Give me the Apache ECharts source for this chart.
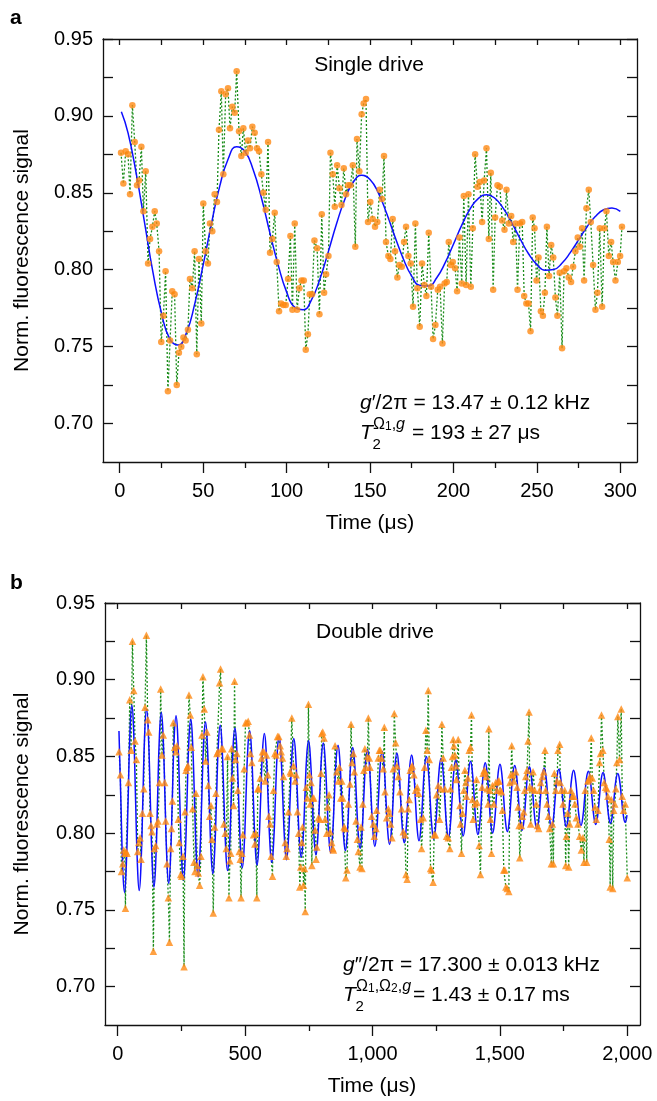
<!DOCTYPE html>
<html><head><meta charset="utf-8">
<script src="https://cdn.jsdelivr.net/npm/echarts@6/dist/echarts.min.js"></script>
<style>html,body{margin:0;padding:0;background:#fff}#c{width:657px;height:1101px}</style>
</head><body><div id="c"></div>
<script>
// ---------- Panel a: single drive ----------
const aTime = [
0.8,2.2,3.6,5.0,6.2,7.6,9.0,10.4,11.6,13.0,
14.2,15.6,17.0,18.2,19.6,21.0,22.2,23.6,24.9,26.2,
27.5,28.9,30.2,31.5,32.9,34.2,35.5,36.9,38.2,39.5,
40.9,42.1,43.5,44.9,46.2,47.5,48.9,50.1,51.5,52.9,
54.1,55.5,56.9,58.3,59.5,60.9,62.1,63.5,64.9,66.1,
67.5,68.9,70.1,71.5,72.9,74.1,75.5,76.9,78.1,79.5,
80.9,82.3,83.5,84.9,86.1,87.5,88.9,90.1,91.5,92.9,
94.1,95.5,96.7,98.1,99.5,100.9,102.3,103.5,104.9,106.3,
107.7,108.9,110.3,111.5,112.8,113.9,115.3,116.7,118.3,119.7,
121.1,122.5,123.7,125.1,126.3,127.7,128.9,130.3,131.7,132.9,
134.3,135.7,136.9,138.3,139.7,141.2,142.2,143.6,145.0,146.2,
147.6,148.8,150.2,151.6,153.0,154.4,155.8,157.2,158.4,159.6,
161.0,162.2,163.6,165.0,166.4,167.6,169.0,170.4,171.6,173.0,
174.4,175.8,177.2,178.4,179.8,181.2,182.6,183.8,185.2,186.6,
187.8,189.2,190.6,192.0,193.4,194.7,196.0,197.2,198.4,199.6,
201.0,202.2,203.6,205.0,206.2,207.6,209.0,210.4,211.6,213.0,
214.4,215.8,217.2,218.4,219.8,221.2,222.4,223.8,225.0,226.4,
227.8,229.2,230.6,231.8,233.2,234.6,235.8,237.2,238.4,239.8,
241.2,242.4,243.7,245.0,246.2,247.5,248.6,249.8,251.0,252.4,
253.6,254.8,256.0,257.3,258.6,259.8,261.1,262.3,263.7,265.1,
266.3,267.7,269.1,270.5,271.7,273.1,274.5,275.7,277.1,278.3,
279.7,281.1,282.3,283.7,285.1,286.3,287.7,289.1,290.5,291.7,
293.1,294.5,295.7,297.1,298.5,299.9,301.0];
const aSignal = [
.876,.856,.877,.875,.849,.907,.883,.855,.858,.880,
.838,.864,.804,.820,.828,.838,.830,.812,.753,.770,
.799,.721,.754,.786,.784,.725,.746,.750,.756,.754,
.761,.794,.788,.812,.745,.807,.765,.843,.812,.804,
.830,.825,.849,.844,.891,.916,.862,.914,.918,.892,
.906,.902,.929,.890,.874,.892,.876,.884,.879,.893,
.889,.879,.877,.862,.850,.839,.883,.811,.820,.837,
.805,.773,.778,.777,.777,.794,.822,.774,.830,.774,
.788,.793,.793,.748,.758,.784,.784,.819,.814,.771,
.836,.785,.797,.809,.876,.862,.841,.868,.853,.842,
.866,.849,.855,.855,.868,.815,.885,.864,.901,.908,
.911,.831,.844,.833,.828,.831,.852,.846,.874,.818,
.809,.807,.833,.812,.795,.803,.802,.818,.828,.809,
.804,.776,.830,.788,.763,.804,.790,.783,.824,.789,
.755,.764,.787,.789,.752,.791,.792,.818,.803,.805,
.801,.786,.821,.791,.848,.790,.849,.789,.827,.875,
.854,.857,.831,.858,.879,.820,.863,.787,.834,.855,
.854,.832,.826,.852,.830,.835,.818,.830,.787,.830,
.831,.783,.778,.778,.760,.834,.827,.793,.808,.773,
.770,.785,.828,.796,.816,.808,.782,.770,.798,.749,
.799,.801,.795,.792,.802,.812,.821,.815,.827,.793,
.840,.852,.831,.803,.774,.785,.827,.776,.827,.838,
.809,.818,.805,.793,.805,.809,.828];
const aFitTime = [1,5,10,15,20,25,30,35,40,45,50,55,60,65,70,75,80,85,90,95,100,105,110,115,120,125,130,135,140,145,150,155,160,165,170,175,180,185,190,195,200,205,210,215,220,225,230,235,240,245,250,255,260,265,270,275,280,285,290,295,300];
const aFitSignal = [.9027,.889,.862,.830,.798,.772,.755,.751,.759,.778,.803,.830,.8545,.872,.880,.877,.865,.8465,.824,.803,.7856,.7755,.774,.7806,.794,.8116,.830,.846,.857,.8614,.8587,.850,.8365,.8213,.807,.7958,.7898,.7895,.7948,.8045,.8166,.829,.8395,.8464,.8488,.8463,.8397,.8304,.820,.8104,.8033,.7997,.8001,.8042,.8111,.8194,.8278,.8346,.839,.8401,.8379];

// ---------- Panel b: double drive ----------
const bTime = [
5,10.6,14.5,19.7,23.6,27.5,30.2,32.8,36.7,41.9,
47.1,52.4,57.6,62.8,68.0,73.2,78.5,82.4,87.6,91.5,
96.8,102.0,107.2,112.4,117.7,121.6,126.8,130.7,134.6,139.9,
143.8,149.0,154.2,158.1,163.4,168.6,173.8,179.0,184.3,188.2,
193.4,198.5,203.0,207.5,211.0,214.5,218.2,223.4,228.7,232.6,
237.8,241.7,247.0,250.9,256.1,260.3,264.0,268.0,271.8,275.7,
279.6,284.8,288.7,294.0,299.2,303.1,307.0,312.2,316.2,321.4,
326.6,330.5,334.4,339.7,344.9,350.1,355.3,360.6,365.8,369.7,
375.0,380.2,385.4,389.3,393.2,399.8,403.7,407.6,412.8,416.7,
422.0,425.9,431.1,436.5,440.2,443.5,447.0,450.5,454.6,458.5,
462.4,467.7,471.6,476.8,480.7,484.0,487.5,491.2,496.4,501.6,
506.8,512.1,517.3,521.2,526.4,533.0,538.2,542.0,546.0,549.5,
553.0,559.1,564.3,568.2,573.4,578.7,583.9,589.1,593.0,598.3,
602.2,607.4,611.3,616.5,621.8,627.0,632.2,637.6,641.5,646.7,
650.6,657.2,661.1,664.5,670.2,676.8,680.0,683.3,689.8,696.4,
700.3,705.5,710.0,714.5,718.0,722.5,725.5,729.0,733.0,736.0,
740.0,744.0,748.6,752.5,755.5,758.5,762.0,765.6,769.5,774.7,
778.6,781.2,787.8,794.3,798.2,800.8,804.7,810.0,813.9,820.4,
824.3,829.6,833.5,840.0,843.9,846.5,853.1,859.6,866.1,870.0,
875.3,879.2,883.1,888.3,892.3,895.0,900.0,905.3,911.8,915.8,
919.7,924.9,928.8,935.3,940.6,944.5,951.0,955.0,958.5,962.0,
966.0,970.0,974.5,979.8,983.7,987.6,990.2,996.7,1003.3,1007.2,
1013.7,1016.3,1022.9,1026.8,1030.7,1035.9,1042.4,1046.4,1049.0,1055.5,
1062.0,1066.0,1071.2,1076.4,1081.6,1085.5,1090.8,1096.0,1101.2,1107.7,
1114.3,1120.8,1127.3,1131.2,1136.0,1140.0,1144.0,1148.0,1152.0,1156.1,
1162.6,1169.1,1175.7,1180.9,1188.7,1192.6,1199.2,1204.4,1209.6,1214.8,
1218.8,1222.7,1227.9,1232.0,1238.0,1242.0,1247.0,1251.4,1257.9,1263.2,
1268.4,1272.3,1277.5,1284.1,1290.6,1297.1,1303.6,1306.3,1310.2,1314.1,
1316.7,1319.4,1323.3,1327.2,1329.8,1336.3,1342.9,1345.5,1349.4,1353.3,
1358.5,1362.5,1366.4,1369.0,1374.2,1379.4,1384.7,1388.6,1392.5,1395.1,
1401.6,1408.2,1410.8,1418.6,1423.8,1430.0,1434.0,1438.5,1442.5,1446.5,
1450.0,1453.9,1456.5,1460.4,1463.0,1467.0,1470.8,1476.1,1483.9,1489.1,
1493.1,1497.0,1502.2,1506.1,1510.0,1515.3,1519.5,1523.5,1529.0,1535.0,
1539.5,1543.0,1546.6,1550.5,1554.4,1562.3,1567.5,1571.4,1575.3,1578.0,
1584.5,1588.4,1593.6,1597.5,1601.5,1606.7,1610.6,1614.5,1617.1,1621.0,
1626.3,1630.2,1636.7,1643.2,1647.2,1652.4,1656.3,1660.2,1666.7,1672.0,
1677.2,1679.8,1685.0,1690.3,1695.5,1702.0,1706.0,1710.0,1714.0,1719.0,
1724.2,1728.1,1734.7,1737.3,1741.2,1747.7,1754.3,1758.2,1760.8,1766.0,
1770.0,1774.0,1779.0,1784.3,1790.8,1794.7,1800.0,1806.5,1813.0,1819.6,
1826.1,1830.0,1835.2,1841.0,1845.0,1849.4,1853.6,1858.7,1862.6,1867.9,
1873.1,1878.3,1884.9,1891.4,1895.0,1899.0,1904.4,1909.7,1914.9,1920.1,
1924.0,1929.3,1933.0,1937.1,1943.0,1947.0,1951.0,1955.0,1959.0,1963.0,
1969.7,1976.3,1980.2,1985.4,1992.0,2000.0];
const bSignal = [
.853,.838,.775,.780,.789,.787,.751,.788,.787,.833,
.887,.854,.925,.893,.860,.848,.788,.794,.797,.783,
.813,.829,.882,.929,.874,.866,.813,.805,.801,.723,
.790,.792,.806,.808,.833,.894,.851,.864,.833,.808,
.780,.758,.729,.790,.803,.821,.872,.856,.853,.857,
.809,.794,.773,.772,.785,.713,.814,.841,.843,.844,
.890,.877,.856,.816,.781,.775,.826,.779,.774,.766,
.785,.864,.902,.881,.847,.866,.831,.811,.818,.796,
.748,.804,.826,.852,.853,.898,.907,.855,.855,.806,
.800,.790,.850,.758,.782,.787,.855,.836,.818,.899,
.848,.852,.828,.788,.783,.758,.787,.799,.842,.872,
.872,.873,.864,.852,.846,.799,.793,.800,.758,.829,
.829,.836,.849,.853,.853,.834,.851,.838,.811,.806,
.785,.772,.828,.852,.851,.863,.863,.857,.853,.849,
.837,.794,.785,.790,.814,.840,.839,.875,.844,.834,
.838,.814,.800,.765,.778,.794,.804,.766,.777,.749,
.830,.823,.884,.838,.819,.833,.779,.823,.823,.802,
.783,.791,.810,.809,.839,.865,.866,.862,.809,.800,
.817,.825,.801,.794,.790,.789,.857,.840,.834,.843,
.823,.834,.823,.804,.803,.771,.776,.819,.832,.871,
.846,.852,.840,.808,.796,.788,.778,.804,.777,.819,
.841,.855,.843,.850,.875,.849,.843,.811,.806,.798,
.803,.815,.849,.854,.854,.849,.842,.869,.827,.810,
.816,.813,.806,.797,.842,.878,.859,.844,.837,.827,
.816,.801,.799,.773,.770,.816,.822,.841,.843,.844,
.838,.828,.830,.826,.809,.790,.810,.843,.867,.854,
.893,.848,.777,.776,.768,.799,.799,.825,.831,.809,
.829,.871,.849,.829,.798,.797,.790,.829,.843,.850,
.861,.857,.851,.844,.835,.861,.818,.806,.787,.813,
.828,.841,.833,.824,.836,.854,.856,.877,.822,.809,
.819,.835,.820,.792,.773,.830,.839,.841,.840,.837,
.829,.819,.868,.828,.809,.787,.831,.819,.833,.828,
.834,.834,.828,.827,.815,.776,.776,.765,.764,.762,
.833,.838,.857,.838,.834,.840,.830,.817,.805,.784,
.805,.811,.814,.828,.837,.841,.860,.879,.830,.806,
.829,.840,.828,.819,.805,.803,.828,.833,.837,.840,
.854,.828,.819,.811,.803,.780,.806,.780,.839,.828,
.834,.854,.858,.833,.828,.819,.828,.779,.798,.813,
.778,.806,.828,.824,.824,.819,.810,.806,.798,.789,
.797,.781,.828,.781,.834,.835,.837,.862,.836,.828,
.817,.809,.815,.846,.852,.877,.854,.833,.830,.829,
.824,.796,.765,.822,.764,.815,.819,.829,.846,.876,
.848,.881,.824,.815,.819,.771];
// fit curve readings, sampled every 7.225 µs from 4.825 µs
const bFitStart = 4.825, bFitStep = 7.225;
const bFitSignal = [
.8666,.823,.7794,.7614,.7794,.823,.8666,
.8834,.8657,.823,.7803,.7626,.7803,.823,.8657,
.8810,.8640,.823,.7820,.7650,.7820,.823,.8640,
.8787,.8624,.823,.7836,.7673,.7836,.823,.8624,
.8765,.8608,.823,.7852,.7695,.7852,.823,.8608,
.8744,.8593,.823,.7867,.7716,.7867,.823,.8593,
.8724,.8579,.823,.7881,.7736,.7881,.823,.8579,
.8704,.8565,.823,.7895,.7756,.7895,.823,.8565,
.8685,.8552,.823,.7908,.7775,.7908,.823,.8552,
.8667,.8539,.823,.7921,.7793,.7921,.823,.8539,
.8650,.8527,.823,.7933,.7810,.7933,.823,.8527,
.8633,.8515,.823,.7945,.7827,.7945,.823,.8515,
.8617,.8504,.823,.7956,.7843,.7956,.823,.8504,
.8602,.8493,.823,.7967,.7858,.7967,.823,.8493,
.8587,.8482,.823,.7978,.7873,.7978,.823,.8482,
.8573,.8473,.823,.7987,.7887,.7987,.823,.8473,
.8559,.8463,.823,.7997,.7901,.7997,.823,.8463,
.8546,.8453,.823,.8007,.7914,.8007,.823,.8453,
.8534,.8445,.823,.8015,.7926,.8015,.823,.8445,
.8522,.8436,.823,.8024,.7938,.8024,.823,.8436,
.8510,.8428,.823,.8032,.7950,.8032,.823,.8428,
.8499,.8420,.823,.8040,.7961,.8040,.823,.8420,
.8489,.8413,.823,.8047,.7971,.8047,.823,.8413,
.8478,.8405,.823,.8055,.7982,.8055,.823,.8405,
.8468,.8398,.823,.8062,.7992,.8062,.823,.8398,
.8459,.8392,.823,.8068,.8001,.8068,.823,.8392,
.8450,.8386,.823,.8074,.8010,.8074,.823,.8386,
.8441,.8379,.823,.8081,.8019,.8081,.823,.8379,
.8433,.8374,.823,.8086,.8027,.8086,.823,.8374,
.8425,.8368,.823,.8092,.8035,.8092,.823,.8368,
.8417,.8362,.823,.8098,.8043,.8098,.823,.8362,
.8410,.8357,.823,.8103,.8050,.8103,.823,.8357,
.8403,.8352,.823,.8108,.8057,.8108,.823,.8352,
.8396,.8347,.823,.8113,.8064,.8113,.823,.8347,
.8389,.8342,.823,.8118,.8071,.8118];

// ---------- ticks ----------
const aXMajor = [0,50,100,150,200,250,300];
const aXMinor = [25,75,125,175,225,275];
const bXMajor = [0,500,1000,1500,2000];
const bXMinor = [250,750,1250,1750];
const yMajor = [0.70,0.75,0.80,0.85,0.90,0.95];
const yAll = [0.70,0.725,0.75,0.775,0.80,0.825,0.85,0.875,0.90,0.925,0.95];

const FONT = '"Liberation Sans", Arial, Helvetica, sans-serif';
const INK = '#111';
const ORANGE = '#ff8a14';
const GREEN = '#1a8c1a';
const BLUE = '#0d0dff';

function xAxesFor(gridIndex, min, max, majors, minors, fmt) {
  const ls = {color: INK, width: 1.3};
  return [
    {gridIndex, type: 'value', min, max, position: 'bottom',
     axisLine: {show: true, onZero: false, lineStyle: ls},
     axisTick: {show: true, inside: false, length: 11, customValues: majors, lineStyle: ls},
     axisLabel: {show: true, customValues: majors, margin: 19, formatter: fmt, color: '#000', fontSize: 20, fontFamily: FONT},
     splitLine: {show: false}},
    {gridIndex, type: 'value', min, max, position: 'bottom',
     axisLine: {show: false, onZero: false},
     axisTick: {show: true, inside: false, length: 6, customValues: minors, lineStyle: ls},
     axisLabel: {show: false}, splitLine: {show: false}},
    {gridIndex, type: 'value', min, max, position: 'top',
     axisLine: {show: true, onZero: false, lineStyle: ls},
     axisTick: {show: true, inside: true, length: 6, customValues: majors.concat(minors), lineStyle: ls},
     axisLabel: {show: false}, splitLine: {show: false}}
  ];
}
function yAxesFor(gridIndex) {
  const ls = {color: INK, width: 1.3};
  return [
    {gridIndex, type: 'value', min: 0.675, max: 0.95, position: 'left',
     axisLine: {show: true, onZero: false, lineStyle: ls},
     axisTick: {show: true, inside: true, length: 10, customValues: yAll, lineStyle: ls},
     axisLabel: {show: true, customValues: yMajor, margin: 10, formatter: v => v.toFixed(2), color: '#000', fontSize: 20, fontFamily: FONT},
     splitLine: {show: false}},
    {gridIndex, type: 'value', min: 0.675, max: 0.95, position: 'right',
     axisLine: {show: true, onZero: false, lineStyle: ls},
     axisTick: {show: true, inside: true, length: 10, customValues: yAll, lineStyle: ls},
     axisLabel: {show: false}, splitLine: {show: false}}
  ];
}

const aPts = aTime.map((t, i) => [t, aSignal[i]]);
const aFit = aFitTime.map((t, i) => [t, aFitSignal[i]]);
const bPts = bTime.map((t, i) => [t, bSignal[i]]);
const bFit = bFitSignal.map((v, j) => [bFitStart + j * bFitStep, v]);

function dataLine(xi, yi, pts) {
  return {type: 'line', xAxisIndex: xi, yAxisIndex: yi, data: pts, symbol: 'none', showSymbol: false,
    lineStyle: {color: GREEN, width: 1.3, type: [2, 2]}, z: 1, silent: true};
}
function fitLine(xi, yi, pts) {
  return {type: 'line', xAxisIndex: xi, yAxisIndex: yi, data: pts, symbol: 'none', showSymbol: false, smooth: 0.5,
    lineStyle: {color: BLUE, width: 1.5}, z: 2, silent: true};
}
function markers(xi, yi, pts, sym, size) {
  return {type: 'scatter', xAxisIndex: xi, yAxisIndex: yi, data: pts, symbol: sym, symbolSize: size,
    itemStyle: {color: ORANGE}, z: 3, silent: true};
}

function T(x, y, text, size, extra, rot) {
  const el = {type: 'text', x, y, silent: true,
    style: Object.assign({text, fontSize: size, fontFamily: FONT, fill: '#000',
      textAlign: 'left', textVerticalAlign: 'middle', align: 'left', verticalAlign: 'middle'}, extra || {})};
  if (rot) el.rotation = rot;
  return el;
}
const it = (s) => ({fontStyle: 'italic', fontSize: s, fontFamily: FONT, fill: '#000'});
const up = (s) => ({fontSize: s, fontFamily: FONT, fill: '#000'});
const sub = (s) => ({fontSize: s, fontFamily: FONT, fill: '#000', verticalAlign: 'bottom'});

const fmtA = v => String(v);
const fmtB = v => v.toLocaleString('en-US');
const CENTER = {textAlign: 'center', align: 'center'};

const graphic = [
  T(10, 18, 'a', 21, {fontWeight: 'bold'}),
  T(10, 583, 'b', 21, {fontWeight: 'bold'}),
  T(22, 250.5, 'Norm. fluorescence signal', 21, CENTER, Math.PI / 2),
  T(22, 814, 'Norm. fluorescence signal', 21, CENTER, Math.PI / 2),
  T(370, 523, 'Time (μs)', 21, CENTER),
  T(372, 1086, 'Time (μs)', 21, CENTER),
  T(369, 65, 'Single drive', 21, CENTER),
  T(375, 632, 'Double drive', 21, CENTER),
  // panel a annotation
  T(360, 403, '{i|g}{n|′/2π = 13.47 ± 0.12 kHz}', 21, {rich: {i: it(21), n: up(21)}}),
  T(360, 433, '{i|T}', 21, {rich: {i: it(21)}}),
  T(372.5, 445, '2', 15),
  T(373, 425, '{n|Ω}{s|1}{n|,}{i|g}', 16, {rich: {n: up(16), s: sub(12), i: it(16)}}),
  T(412, 433, '= 193 ± 27 μs', 21),
  // panel b annotation
  T(343, 965, '{i|g}{n|″/2π = 17.300 ± 0.013 kHz}', 21, {rich: {i: it(21), n: up(21)}}),
  T(343, 995, '{i|T}', 21, {rich: {i: it(21)}}),
  T(355.5, 1007, '2', 15),
  T(356, 987, '{n|Ω}{s|1}{n|,Ω}{s|2}{n|,}{i|g}', 16, {rich: {n: up(16), s: sub(12), i: it(16)}}),
  T(413, 995, '= 1.43 ± 0.17 ms', 21)
];

const chart = echarts.init(document.getElementById('c'), null, {renderer: 'canvas'});
chart.setOption({
  animation: false,
  backgroundColor: '#fff',
  grid: [
    {left: 103, top: 39, width: 534, height: 423},
    {left: 105, top: 603, width: 535, height: 422}
  ],
  xAxis: xAxesFor(0, -10, 310, aXMajor, aXMinor, fmtA).concat(xAxesFor(1, -50, 2050, bXMajor, bXMinor, fmtB)),
  yAxis: yAxesFor(0).concat(yAxesFor(1)),
  series: [
    dataLine(0, 0, aPts), fitLine(0, 0, aFit), markers(0, 0, aPts, 'circle', 6.5),
    dataLine(3, 2, bPts), fitLine(3, 2, bFit), markers(3, 2, bPts, 'triangle', 7.5)
  ],
  graphic
});
</script>
</body></html>
